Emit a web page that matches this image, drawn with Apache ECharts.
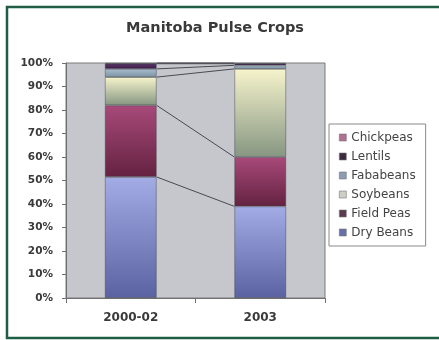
<!DOCTYPE html>
<html>
<head>
<meta charset="utf-8">
<script src="https://cdn.jsdelivr.net/npm/echarts@6/dist/echarts.min.js"></script>
<style>
html,body{margin:0;padding:0;background:#fff;}
#c{width:439px;height:340px;}
</style>
</head>
<body>
<div id="c"></div>
<script>
const categories = ['2000-02', '2003'];
const dryBeans  = [51.5, 39.0];
const fieldPeas = [30.5, 21.0];
const soybeans  = [12.0, 37.5];
const fababeans = [3.5, 1.5];
const lentils   = [2.2, 0.7];
const chickpeas = [0.3, 0.3];
const yTicks = ['0%','10%','20%','30%','40%','50%','60%','70%','80%','90%','100%'];

const seriesDefs = [
  {name:'Dry Beans', data:dryBeans, top:'#a4ace6', bottom:'#5a62a2', legend:'#6670a8'},
  {name:'Field Peas', data:fieldPeas, top:'#a84a7a', bottom:'#642240', legend:'#5a3a4e'},
  {name:'Soybeans', data:soybeans, top:'#f6f4cc', bottom:'#869682', legend:'#cfcfc8'},
  {name:'Fababeans', data:fababeans, top:'#a8bccc', bottom:'#7c94a4', legend:'#8c9cb4'},
  {name:'Lentils', data:lentils, top:'#5a3468', bottom:'#3a1e46', legend:'#3a2a3c'},
  {name:'Chickpeas', data:chickpeas, top:'#b06088', bottom:'#8a4068', legend:'#b07090'}
];
const legendOrder = ['Chickpeas','Lentils','Fababeans','Soybeans','Field Peas','Dry Beans'];

// cumulative boundaries for series lines
const cum = [];
let acc = [0,0];
seriesDefs.forEach(s => {
  acc = [acc[0] + s.data[0], acc[1] + s.data[1]];
  cum.push([0, acc[0], acc[1]]);
});

const chart = echarts.init(document.getElementById('c'), null, {renderer:'canvas'});
const barSeries = seriesDefs.map(s => ({
  name: s.name,
  type: 'bar',
  stack: 'total',
  barWidth: '40%',
  data: s.data,
  itemStyle: {
    color: new echarts.graphic.LinearGradient(0,0,0,1,[
      {offset:0,color:s.top},{offset:1,color:s.bottom}
    ]),
    borderColor: 'rgba(60,60,70,0.55)',
    borderWidth: 0.8
  },
  emphasis: {disabled: true}
}));

const option = {
  animation: false,
  backgroundColor: '#ffffff',
  title: {
    text: 'Manitoba Pulse Crops',
    left: 210, top: 16, textAlign: 'center',
    textStyle: {fontFamily:'DejaVu Sans', fontWeight:'bold', fontSize:14.5, color:'#3a3a3a'}
  },
  graphic: [{
    type:'polyline', shape:{points:[[445,7],[7,7],[7,338],[445,338]]},
    style:{fill:null, stroke:'#1f5e44', lineWidth:2.5}, silent:true, z:100
  }],
  legend: {
    orient: 'vertical',
    left: 329, top: 124,
    padding: [7,10,7,10],
    backgroundColor: '#ffffff',
    borderColor: '#8a8a8a', borderWidth: 1,
    itemWidth: 7, itemHeight: 7, itemGap: 6, itemTextGap: 6,
    icon: 'rect',
    textStyle: {fontFamily:'DejaVu Sans', fontSize:12, color:'#444444', lineHeight:13},
    data: legendOrder.map(n => {
      const s = seriesDefs.find(d => d.name === n);
      return {name:n, itemStyle:{color:s.legend, borderColor:'#777', borderWidth:0.6}};
    })
  },
  grid: {
    left: 66, right: 114, top: 63, bottom: 42,
    show: true, backgroundColor: '#c5c7cc', borderColor: '#7a7a7a', borderWidth: 1
  },
  xAxis: {
    type: 'category',
    data: categories,
    axisLine: {lineStyle:{color:'#707070'}},
    axisTick: {show:true, length:5, lineStyle:{color:'#707070'}},
    axisLabel: {fontFamily:'DejaVu Sans', fontWeight:'bold', fontSize:12, color:'#3a3a3a', margin:14}
  },
  yAxis: {
    type: 'value',
    min: 0, max: 100, interval: 10,
    axisLine: {show:true, lineStyle:{color:'#707070'}},
    axisTick: {show:true, length:4, lineStyle:{color:'#707070'}},
    splitLine: {show:false},
    axisLabel: {
      fontFamily:'DejaVu Sans', fontWeight:'bold', fontSize:10.5, color:'#3a3a3a', margin:13,
      formatter: v => yTicks[Math.round(v/10)]
    }
  },
  series: barSeries.concat([{
    type: 'custom',
    name: 'seriesLines',
    data: cum,
    encode: {x:0, y:[1,2]},
    z: 3,
    silent: true,
    renderItem: function(params, api) {
      const v0 = api.value(1), v1 = api.value(2);
      const p0 = api.coord([0, v0]);
      const p1 = api.coord([1, v1]);
      const bw = api.size([1, 0])[0] * 0.4;
      return {
        type: 'line',
        shape: {x1: p0[0] + bw/2, y1: p0[1], x2: p1[0] - bw/2, y2: p1[1]},
        style: {stroke: '#4a4a52', lineWidth: 1}
      };
    }
  }])
};
chart.setOption(option);
</script>
</body>
</html>
